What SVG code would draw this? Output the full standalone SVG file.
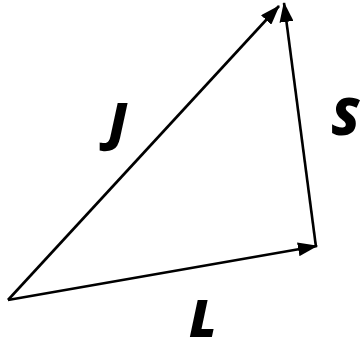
<svg xmlns="http://www.w3.org/2000/svg" width="361" height="343" viewBox="0 0 361 343">
<defs>
<marker id="ah" viewBox="0 0 20 14" refX="19" refY="7" markerWidth="20" markerHeight="14" markerUnits="userSpaceOnUse" orient="auto">
<path d="M0,0 L20,7 L0,14 Z" fill="#000"/>
</marker>
</defs>
<style>
.c{stroke:#000;stroke-width:2.6;fill:none;marker-end:url(#ah)}
.t{font-family:"Open Sans",sans-serif;font-weight:800;font-style:italic;font-size:52px;fill:#000}
</style>
<rect width="361" height="343" fill="#fff"/>
<g id="connectors">
<line class="c" x1="8" y1="300" x2="279" y2="6"/>
<line class="c" x1="8" y1="300" x2="317" y2="246"/>
<line class="c" x1="316" y1="247" x2="284" y2="3"/>
</g>
<g id="J"><text class="t" x="108" y="140">J</text></g>
<g id="S"><text class="t" x="331" y="135">S</text></g>
<g id="L"><text class="t" x="189" y="337">L</text></g>
</svg>
